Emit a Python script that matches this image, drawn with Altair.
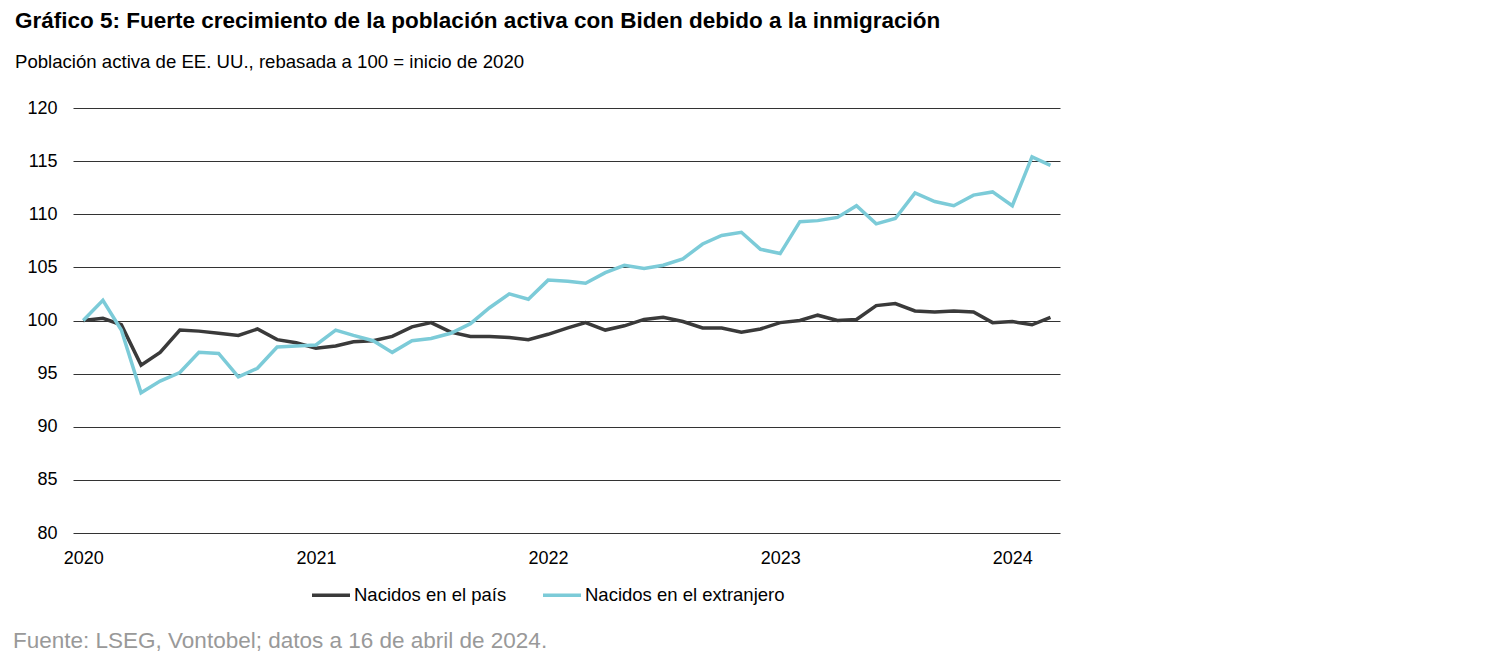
import altair as alt
import pandas as pd

months = pd.date_range("2020-01-01", "2024-03-01", freq="MS").strftime("%Y-%m-%d").tolist()

nacidos_pais = [100.0, 100.2, 99.6, 95.8, 97.0, 99.1, 99.0, 98.8, 98.6, 99.2, 98.2, 97.9,
                97.4, 97.6, 98.0, 98.1, 98.5, 99.4, 99.8, 98.9, 98.5, 98.5, 98.4, 98.2,
                98.7, 99.3, 99.8, 99.1, 99.5, 100.1, 100.3, 99.9, 99.3, 99.3, 98.9, 99.2,
                99.8, 100.0, 100.5, 100.0, 100.1, 101.4, 101.6, 100.9, 100.8, 100.9, 100.8, 99.8,
                99.9, 99.6, 100.3]

nacidos_extranjero = [100.0, 101.9, 99.1, 93.2, 94.3, 95.1, 97.0, 96.9, 94.7, 95.5, 97.5, 97.6,
                      97.7, 99.1, 98.6, 98.1, 97.0, 98.1, 98.3, 98.8, 99.7, 101.2, 102.5, 102.0,
                      103.8, 103.7, 103.5, 104.5, 105.2, 104.9, 105.2, 105.8, 107.2, 108.0, 108.3, 106.7,
                      106.3, 109.3, 109.4, 109.7, 110.8, 109.1, 109.6, 112.0, 111.2, 110.8, 111.8, 112.1,
                      110.8, 115.4, 114.6]

series_names = ["Nacidos en el país", "Nacidos en el extranjero"]
series_colors = ["#3a3a3a", "#7ccbd8"]
y_ticks = [80, 85, 90, 95, 100, 105, 110, 115, 120]
year_ticks = [2020, 2021, 2022, 2023, 2024]

title_text = "Gráfico 5: Fuerte crecimiento de la población activa con Biden debido a la inmigración"
subtitle_text = "Población activa de EE. UU., rebasada a 100 = inicio de 2020"
footer_text = "Fuente: LSEG, Vontobel; datos a 16 de abril de 2024."

FONT = "Liberation Sans"

df = pd.DataFrame({
    "fecha": months * 2,
    "valor": nacidos_pais + nacidos_extranjero,
    "serie": [series_names[0]] * len(months) + [series_names[1]] * len(months),
})

x_scale = alt.Scale(
    type="utc",
    domain=[alt.DateTime(year=2019, month=12, date=16, utc=True),
            alt.DateTime(year=2024, month=3, date=16, utc=True)],
)

lines = alt.Chart(df).mark_line(strokeWidth=3.5, strokeJoin="miter").encode(
    x=alt.X(
        "fecha:T",
        scale=x_scale,
        title=None,
        axis=alt.Axis(
            values=[alt.DateTime(year=y, month=1, date=1, utc=True) for y in year_ticks],
            format="%Y",
            formatType="utc",
            grid=False,
            domain=False,
            ticks=False,
            labelFont=FONT,
            labelFontSize=18,
            labelColor="#000000",
            labelPadding=16,
            labelFlush=False,
        ),
    ),
    y=alt.Y(
        "valor:Q",
        scale=alt.Scale(domain=[80, 120], nice=False, zero=False),
        title=None,
        axis=alt.Axis(
            values=y_ticks,
            grid=True,
            gridColor="#333333",
            gridWidth=1,
            gridOpacity=1,
            domain=False,
            ticks=False,
            labelFont=FONT,
            labelFontSize=18,
            labelColor="#000000",
            labelPadding=16,
        ),
    ),
    color=alt.Color(
        "serie:N",
        scale=alt.Scale(domain=series_names, range=series_colors),
        legend=alt.Legend(
            title=None,
            orient="none",
            legendX=237,
            legendY=466,
            direction="horizontal",
            symbolType="stroke",
            symbolSize=1444,
            symbolStrokeWidth=3.5,
            labelFont=FONT,
            labelFontSize=18.5,
            labelColor="#000000",
            labelLimit=0,
            columnPadding=29,
            labelOffset=2,
        ),
    ),
)

footer = alt.Chart(pd.DataFrame({"t": [footer_text]})).mark_text(
    align="left", baseline="alphabetic", font=FONT, fontSize=22.5, color="#999999"
).encode(
    text="t:N",
    x=alt.value(-60),
    y=alt.value(540),
)

chart = alt.layer(lines, footer).properties(
    width=987,
    height=425,
    padding={"left": 65, "top": 100, "right": 10, "bottom": 126},
    autosize=alt.AutoSizeParams(type="none"),
    title=alt.TitleParams(
        text=title_text,
        subtitle=subtitle_text,
        anchor="start",
        frame="group",
        dx=-58,
        offset=27,
        font=FONT,
        fontSize=22.5,
        fontWeight="bold",
        color="#000000",
        subtitleFont=FONT,
        subtitleFontSize=18.6,
        subtitleColor="#000000",
        subtitlePadding=21,
    ),
).configure_view(stroke=None)

chart.save("out.html", embed_options={"renderer": "svg", "actions": False})
